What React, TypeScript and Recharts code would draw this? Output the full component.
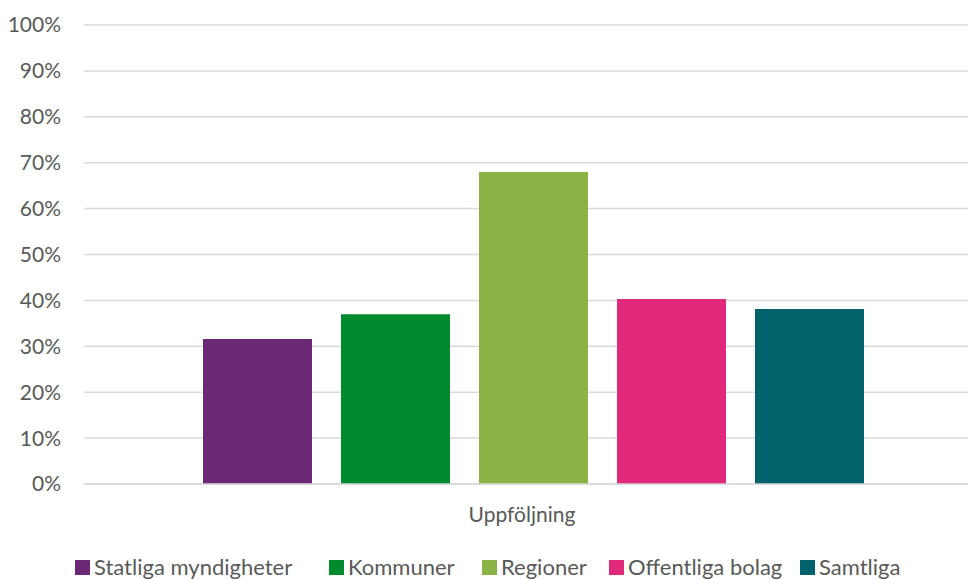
import React from 'react';
import { BarChart, Bar, XAxis, YAxis, CartesianGrid, Legend } from 'recharts';

const categories = ['Uppföljning'];
const statliga = [0.316];
const kommuner = [0.37];
const regioner = [0.68];
const offentliga = [0.403];
const samtliga = [0.381];
const yTicks = [0, 0.1, 0.2, 0.3, 0.4, 0.5, 0.6, 0.7, 0.8, 0.9, 1];

const series = [
  { key: 'statliga', name: 'Statliga myndigheter', values: statliga, color: '#6B2875' },
  { key: 'kommuner', name: 'Kommuner', values: kommuner, color: '#008A2E' },
  { key: 'regioner', name: 'Regioner', values: regioner, color: '#8BB244' },
  { key: 'offentliga', name: 'Offentliga bolag', values: offentliga, color: '#E0297A' },
  { key: 'samtliga', name: 'Samtliga', values: samtliga, color: '#00636B' },
];

const data = categories.map((cat, i) => {
  const row: Record<string, string | number> = { name: cat };
  series.forEach((s) => {
    row[s.key] = s.values[i];
  });
  return row;
});

const FONT = 'Lato, "Open Sans", sans-serif';
const TEXT = '#595959';
// legend slot widths, so each swatch lands where the original has it
const legendSlots = [254, 153, 127, 191, 140];

const LegendContent = () => (
  <div
    style={{
      display: 'flex',
      paddingLeft: 75,
      fontFamily: FONT,
      fontSize: 22,
      lineHeight: '22px',
      color: TEXT,
      whiteSpace: 'nowrap',
    }}
  >
    {series.map((s, i) => (
      <div key={s.key} style={{ display: 'flex', alignItems: 'center', width: legendSlots[i] }}>
        <span style={{ width: 15, height: 15, background: s.color, marginRight: 4, display: 'inline-block' }} />
        <span>{s.name}</span>
      </div>
    ))}
  </div>
);

export default function App() {
  return (
    <div style={{ position: 'absolute', left: 0, top: 0, width: 968, height: 579, background: '#fff' }}>
      <BarChart
        width={968}
        height={579}
        data={data}
        margin={{ top: 25, right: -14, left: 0, bottom: 0 }}
        barSize={109}
        barGap={29}
      >
        <CartesianGrid vertical={false} stroke="#d9d9d9" strokeWidth={1.5} />
        <XAxis
          dataKey="name"
          axisLine={{ stroke: '#d9d9d9', strokeWidth: 1.5 }}
          tickLine={false}
          tickMargin={17}
          height={58}
          tick={{ fill: TEXT, fontSize: 21, fontFamily: FONT, dx: -11 }}
        />
        <YAxis
          width={84}
          domain={[0, 1]}
          ticks={yTicks}
          interval={0}
          axisLine={false}
          tickLine={false}
          tickMargin={17}
          tickFormatter={(v: number) => `${Math.round(v * 100)}%`}
          tick={{ fill: TEXT, fontSize: 21, fontFamily: FONT }}
        />
        <Legend
          verticalAlign="bottom"
          align="left"
          height={37}
          wrapperStyle={{ top: 556, bottom: 'auto' }}
          content={<LegendContent />}
        />
        {series.map((s) => (
          <Bar key={s.key} dataKey={s.key} name={s.name} fill={s.color} isAnimationActive={false} />
        ))}
      </BarChart>
    </div>
  );
}
